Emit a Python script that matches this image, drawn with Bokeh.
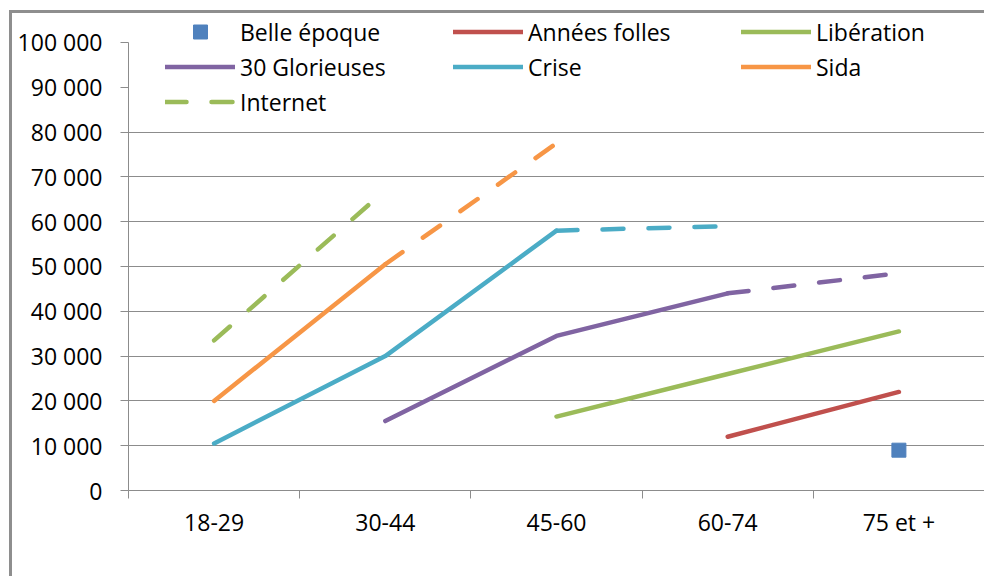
from bokeh.plotting import figure
from bokeh.models import (Range1d, LinearAxis, FixedTicker, Legend, LegendItem,
                          ColumnDataSource, Grid)
from bokeh.embed import file_html
from bokeh.resources import INLINE

nan = float("nan")

categories = ["18-29", "30-44", "45-60", "60-74", "75 et +"]
y_ticks = [0, 10000, 20000, 30000, 40000, 50000, 60000, 70000, 80000, 90000, 100000]
y_tick_labels = ["0", "10 000", "20 000", "30 000", "40 000", "50 000",
                 "60 000", "70 000", "80 000", "90 000", "100 000"]

belle_epoque = [nan, nan, nan, nan, 9000]
annees_folles = [nan, nan, nan, 12000, 22000]
liberation = [nan, nan, 16500, 26000, 35500]
glorieuses_obs = [nan, 15500, 34500, 44000, nan]
glorieuses_proj = [nan, nan, nan, 44000, 48500]
crise_obs = [10500, 30000, 58000, nan, nan]
crise_proj = [nan, nan, 58000, 59000, nan]
sida_obs = [20000, 50500, nan, nan, nan]
sida_proj = [nan, 50500, 77500, nan, nan]
internet_proj = [33500, 67000, nan, nan, nan]

BLUE = "#4F81BD"
RED = "#C0504D"
GREEN = "#9BBB59"
PURPLE = "#8064A2"
TEAL = "#4BACC6"
ORANGE = "#F79646"
LIGHTGREEN = "#9BBB59"
GRAY = "#8c8c8c"
FONT = "Open Sans"
FS = "23px"

# extra head-room above 100 000 so the legend sits inside the frame
Y_TOP = 106236

p = figure(x_range=categories, y_range=Range1d(0, Y_TOP),
           width=984, height=576, output_backend="svg", toolbar_location=None,
           x_axis_type=None, y_axis_type=None,
           min_border_left=128, min_border_right=0, min_border_top=14, min_border_bottom=86)
p.outline_line_color = None
p.background_fill_color = "white"
p.border_fill_color = None
p.styles = {"box-shadow": "inset 9px 10px 0 0 white, inset 12px 13px 0 0 #8e8e8e",
            "background": "white"}

# y axis
yaxis = LinearAxis(ticker=FixedTicker(ticks=y_ticks, minor_ticks=[]),
                   major_label_overrides={t: l for t, l in zip(y_ticks, y_tick_labels)},
                   bounds=(y_ticks[0], y_ticks[-1]))
yaxis.axis_line_color = GRAY
yaxis.major_tick_line_color = GRAY
yaxis.major_tick_out = 8
yaxis.major_tick_in = 0
yaxis.minor_tick_line_color = None
yaxis.major_label_standoff = 18
yaxis.major_label_text_font = FONT
yaxis.major_label_text_font_size = FS
yaxis.major_label_text_color = "black"
p.add_layout(yaxis, "left")

# x axis: labels at category centres, tick marks at boundaries
centres = [i + 0.5 for i in range(len(categories))]
bounds = [float(i) for i in range(len(categories) + 1)]
xaxis = LinearAxis(ticker=FixedTicker(ticks=centres, minor_ticks=bounds),
                   major_label_overrides={c: l for c, l in zip(centres, categories)})
xaxis.axis_line_color = GRAY
xaxis.major_tick_line_color = None
xaxis.major_tick_out = 0
xaxis.major_tick_in = 0
xaxis.minor_tick_line_color = GRAY
xaxis.minor_tick_out = 8
xaxis.minor_tick_in = 0
xaxis.major_label_standoff = 7
xaxis.major_label_text_font = FONT
xaxis.major_label_text_font_size = FS
xaxis.major_label_text_color = "black"
p.add_layout(xaxis, "below")

grid = Grid(dimension=1, ticker=FixedTicker(ticks=[t for t in y_ticks if t <= 80000]))
grid.grid_line_color = GRAY
grid.grid_line_width = 1
p.add_layout(grid)

def line(vals, color, dash="solid"):
    src = ColumnDataSource(dict(x=categories, y=vals))
    return p.line("x", "y", source=src, line_color=color, line_width=4.5,
                  line_cap="round", line_join="round", line_dash=dash)

DASH = "21 25"
r_af = line(annees_folles, RED)
r_lib = line(liberation, GREEN)
r_g = line(glorieuses_obs, PURPLE)
line(glorieuses_proj, PURPLE, DASH)
r_c = line(crise_obs, TEAL)
line(crise_proj, TEAL, DASH)
r_s = line(sida_obs, ORANGE)
line(sida_proj, ORANGE, DASH)
r_i = line(internet_proj, LIGHTGREEN, DASH)
r_be = p.scatter(x=categories, y=belle_epoque, marker="square", size=14,
                 fill_color=BLUE, line_color=BLUE)

legend = Legend(items=[
    LegendItem(label="Belle époque", renderers=[r_be]),
    LegendItem(label="Années folles", renderers=[r_af]),
    LegendItem(label="Libération", renderers=[r_lib]),
    LegendItem(label="30 Glorieuses", renderers=[r_g]),
    LegendItem(label="Crise", renderers=[r_c]),
    LegendItem(label="Sida", renderers=[r_s]),
    LegendItem(label="Internet", renderers=[r_i]),
], orientation="horizontal", ncols=3, location=(37, 371))
legend.glyph_width = 70
legend.glyph_height = 35
legend.label_height = 35
legend.label_width = 213
legend.label_standoff = 5
legend.spacing = 0
legend.padding = 0
legend.margin = 0
legend.background_fill_alpha = 0
legend.border_line_color = None
legend.label_text_font = FONT
legend.label_text_font_size = FS
legend.label_text_color = "black"
legend.label_text_baseline = "middle"
p.add_layout(legend, "center")

open("out.html", "w").write(file_html(p, INLINE))
